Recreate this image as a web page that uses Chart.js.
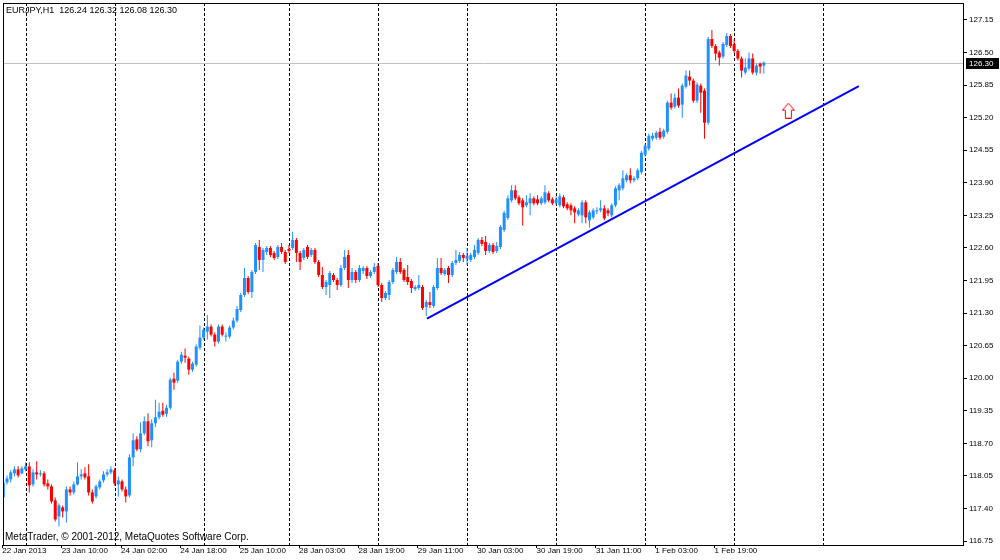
<!DOCTYPE html>
<html>
<head>
<meta charset="utf-8">
<title>EURJPY,H1</title>
<script src="https://cdn.jsdelivr.net/npm/chart.js@4.4.1/dist/chart.umd.min.js"></script>
<style>
  html, body { margin: 0; padding: 0; background: #fff; }
  #wrap { width: 1000px; height: 560px; }
</style>
</head>
<body>
<div id="wrap"><canvas id="chart" width="1000" height="560"></canvas></div>
<script>
const chartTitle = 'EURJPY,H1  126.24 126.32 126.08 126.30';
const copyright = 'MetaTrader, \u00a9 2001-2012, MetaQuotes Software Corp.';

// hourly bars, 22 Jan 2013 18:00 .. 4 Feb 2013
const opens = [
  117.62, 117.92, 117.98, 118.10, 118.18, 118.10, 118.18, 118.24, 117.88, 118.12,
  118.08, 118.10, 117.90, 117.84, 117.56, 117.24, 117.42, 117.34, 117.78, 117.72,
  117.88, 118.04, 118.10, 118.04, 117.72, 117.64, 117.82, 117.96, 118.08, 118.12,
  118.16,
  117.88, 117.94, 117.78, 117.66, 118.42, 118.78, 118.58, 118.90, 119.14, 118.76,
  119.10, 119.22, 119.35, 119.29, 119.41, 119.99, 119.95, 120.33, 120.45, 120.39,
  120.17, 120.27, 120.61, 120.81, 120.93, 121.03, 120.87, 120.73, 121.03, 120.83,
  120.83, 121.01, 121.15, 121.36, 121.66, 122.00, 121.72, 122.12, 122.62, 122.36,
  122.52, 122.60, 122.50, 122.42, 122.62, 122.52, 122.58, 122.60, 122.76, 122.50,
  122.40, 122.62, 122.46, 122.56, 122.32, 122.06, 121.82, 121.86, 122.06, 121.96,
  121.86, 122.20, 122.46, 121.96, 122.12, 121.96, 122.14, 122.20, 122.04, 122.12,
  122.24, 121.86, 121.60, 121.66, 121.92, 122.12, 122.32, 122.16, 122.02, 121.94,
  121.78, 121.80, 121.82, 121.42, 121.52, 121.44, 121.80, 122.20, 122.08, 122.20,
  122.06, 122.30, 122.34, 122.46, 122.38, 122.36, 122.42, 122.50, 122.76, 122.72,
  122.54, 122.66, 122.54, 122.62, 122.96, 123.20, 123.55, 123.75, 123.61, 123.55,
  123.45, 123.49, 123.59, 123.57, 123.49, 123.51, 123.69, 123.57, 123.49, 123.45,
  123.61, 123.47, 123.45, 123.39, 123.27, 123.25, 123.51, 123.15, 123.21, 123.33,
  123.35, 123.39, 123.35, 123.25, 123.45, 123.75, 123.79, 123.95, 124.05, 123.95,
  123.99, 124.11, 124.46, 124.58, 124.78, 124.80, 124.92, 124.82, 124.92, 125.50,
  125.42, 125.60, 125.46, 125.82, 126.02, 125.94, 125.54, 125.84, 125.74, 125.10,
  126.77, 126.63, 126.50, 126.42, 126.65, 126.83, 126.67, 126.53, 126.38, 126.10,
  126.18, 126.38, 126.10, 126.28, 126.24
];
const highs = [
  117.98, 118.06, 118.16, 118.24, 118.24, 118.24, 118.32, 118.32, 118.18, 118.34,
  118.16, 118.14, 117.98, 117.88, 117.62, 117.50, 117.46, 117.84, 117.84, 117.94,
  118.32, 118.18, 118.22, 118.28, 117.78, 117.88, 117.98, 118.14, 118.18, 118.24,
  118.20,
  118.04, 117.98, 117.84, 118.48, 118.90, 118.84, 119.12, 119.24, 119.30, 119.18,
  119.57, 119.51, 119.51, 119.47, 120.01, 120.11, 120.37, 120.53, 120.59, 120.43,
  120.33, 120.67, 121.05, 121.01, 121.26, 121.07, 120.91, 121.07, 121.07, 120.91,
  121.05, 121.21, 121.44, 121.70, 122.20, 122.04, 122.16, 122.70, 122.76, 122.60,
  122.64, 122.64, 122.54, 122.66, 122.70, 122.56, 122.66, 122.92, 122.80, 122.54,
  122.60, 122.66, 122.60, 122.60, 122.36, 122.22, 121.96, 122.14, 122.10, 122.00,
  122.26, 122.56, 122.56, 122.20, 122.16, 122.26, 122.24, 122.24, 122.16, 122.30,
  122.30, 121.90, 121.74, 121.96, 122.20, 122.42, 122.40, 122.20, 122.26, 121.98,
  121.86, 122.06, 121.86, 121.56, 121.72, 121.86, 122.40, 122.40, 122.20, 122.24,
  122.34, 122.56, 122.52, 122.50, 122.60, 122.50, 122.66, 122.80, 122.82, 122.84,
  122.70, 122.70, 122.72, 123.06, 123.34, 123.65, 123.85, 123.85, 123.65, 123.59,
  123.65, 123.69, 123.63, 123.65, 123.63, 123.85, 123.73, 123.61, 123.63, 123.69,
  123.65, 123.51, 123.49, 123.43, 123.39, 123.55, 123.55, 123.35, 123.39, 123.41,
  123.55, 123.45, 123.39, 123.49, 123.83, 123.89, 124.15, 124.09, 124.19, 124.03,
  124.19, 124.54, 124.68, 124.88, 124.90, 124.94, 125.00, 124.98, 125.54, 125.68,
  125.68, 125.78, 125.88, 126.14, 126.14, 125.98, 125.90, 125.88, 125.78, 126.81,
  126.95, 126.67, 126.54, 126.71, 126.89, 126.87, 126.77, 126.57, 126.42, 126.38,
  126.50, 126.48, 126.28, 126.30, 126.32
];
const lows = [
  117.54, 117.88, 117.92, 118.04, 118.02, 118.08, 118.14, 117.72, 117.84, 117.98,
  118.04, 117.84, 117.78, 117.50, 117.14, 117.04, 117.22, 117.12, 117.66, 117.68,
  117.86, 117.98, 117.98, 117.66, 117.50, 117.60, 117.78, 117.92, 118.04, 118.08,
  117.86,
  117.64, 117.74, 117.52, 117.62, 118.24, 118.54, 118.52, 118.86, 118.64, 118.62,
  119.02, 119.18, 119.23, 119.23, 119.37, 119.77, 119.91, 120.29, 120.31, 120.07,
  120.13, 120.23, 120.57, 120.77, 120.77, 120.83, 120.63, 120.69, 120.83, 120.73,
  120.79, 120.97, 121.11, 121.32, 121.62, 121.68, 121.60, 122.08, 122.16, 122.12,
  122.46, 122.42, 122.36, 122.38, 122.48, 122.28, 122.50, 122.56, 122.32, 122.16,
  122.36, 122.38, 122.42, 122.28, 122.02, 121.78, 121.66, 121.60, 121.92, 121.76,
  121.82, 122.16, 121.80, 121.90, 121.90, 121.92, 122.08, 121.98, 122.00, 122.08,
  121.82, 121.52, 121.56, 121.56, 121.88, 122.08, 122.08, 121.92, 121.86, 121.70,
  121.74, 121.76, 121.36, 121.24, 121.40, 121.40, 121.76, 122.06, 122.04, 121.90,
  122.02, 122.26, 122.30, 122.32, 122.26, 122.32, 122.38, 122.46, 122.64, 122.46,
  122.50, 122.48, 122.50, 122.58, 122.92, 123.16, 123.51, 123.55, 123.45, 123.05,
  123.41, 123.25, 123.45, 123.45, 123.45, 123.47, 123.51, 123.45, 123.45, 123.41,
  123.39, 123.35, 123.25, 123.09, 123.23, 123.09, 123.09, 123.01, 123.17, 123.27,
  123.31, 123.15, 123.23, 123.21, 123.41, 123.55, 123.75, 123.91, 123.89, 123.91,
  123.95, 124.07, 124.42, 124.54, 124.74, 124.76, 124.76, 124.78, 124.88, 125.36,
  125.38, 125.40, 125.20, 125.78, 125.84, 125.50, 125.50, 125.30, 124.78, 125.06,
  126.59, 126.34, 126.24, 126.38, 126.61, 126.59, 126.49, 126.34, 126.00, 126.06,
  126.14, 126.06, 126.04, 126.08, 126.08
];
const closes = [
  117.92, 118.00, 118.12, 118.18, 118.06, 118.20, 118.24, 117.86, 118.12, 118.08,
  118.10, 117.88, 117.84, 117.54, 117.18, 117.46, 117.34, 117.78, 117.72, 117.88,
  118.04, 118.08, 118.02, 117.72, 117.54, 117.84, 117.94, 118.08, 118.12, 118.18,
  117.90,
  117.96, 117.78, 117.64, 118.42, 118.76, 118.58, 118.90, 119.14, 118.74, 119.10,
  119.22, 119.33, 119.27, 119.41, 119.97, 119.91, 120.33, 120.47, 120.41, 120.17,
  120.29, 120.63, 120.81, 120.97, 121.03, 120.87, 120.73, 121.03, 120.87, 120.85,
  121.01, 121.15, 121.38, 121.66, 122.00, 121.72, 122.12, 122.66, 122.36, 122.56,
  122.60, 122.46, 122.40, 122.62, 122.52, 122.32, 122.54, 122.76, 122.50, 122.32,
  122.56, 122.42, 122.56, 122.32, 122.06, 121.82, 121.92, 122.10, 121.96, 121.86,
  122.20, 122.42, 121.96, 122.12, 121.96, 122.20, 122.20, 122.04, 122.12, 122.22,
  121.86, 121.60, 121.70, 121.92, 122.16, 122.32, 122.12, 121.96, 121.92, 121.80,
  121.82, 121.86, 121.40, 121.52, 121.46, 121.82, 122.20, 122.10, 122.16, 122.06,
  122.30, 122.36, 122.46, 122.40, 122.44, 122.46, 122.56, 122.76, 122.68, 122.54,
  122.66, 122.52, 122.64, 123.02, 123.30, 123.59, 123.75, 123.59, 123.49, 123.41,
  123.51, 123.59, 123.49, 123.49, 123.59, 123.71, 123.55, 123.49, 123.57, 123.63,
  123.43, 123.39, 123.35, 123.31, 123.35, 123.51, 123.21, 123.31, 123.35, 123.35,
  123.39, 123.19, 123.29, 123.45, 123.79, 123.85, 123.99, 124.05, 123.95, 123.99,
  124.15, 124.50, 124.64, 124.84, 124.84, 124.90, 124.80, 124.94, 125.50, 125.40,
  125.60, 125.44, 125.84, 126.04, 125.94, 125.54, 125.86, 125.70, 125.10, 126.77,
  126.63, 126.48, 126.40, 126.67, 126.83, 126.63, 126.53, 126.38, 126.14, 126.20,
  126.38, 126.10, 126.24, 126.22, 126.30
];

const timeLabels = ['22 Jan 2013', '23 Jan 10:00', '24 Jan 02:00', '24 Jan 18:00', '25 Jan 10:00',
  '28 Jan 03:00', '28 Jan 19:00', '29 Jan 11:00', '30 Jan 03:00', '30 Jan 19:00',
  '31 Jan 11:00', '1 Feb 03:00', '1 Feb 19:00'];
const timeLabelBars = [0, 16, 32, 48, 64, 80, 96, 112, 128, 144, 160, 176, 192];
const separatorBars = [6, 30, 54, 77, 101, 125, 149, 173, 197, 221];
const priceTicks = [116.75, 117.40, 118.05, 118.70, 119.35, 120.00, 120.65, 121.30, 121.95,
  122.60, 123.25, 123.90, 124.55, 125.20, 125.85, 126.50, 127.15];

// objects drawn on the chart
const trendLine = [{x: 114.2, y: 121.19}, {x: 230.6, y: 125.83}];
const arrowMark = [{x: 211.6, y: 125.34}];
const bidPrice = 126.30;

const BULL = '#1e90ff';
const BEAR = '#ff0000';
const FONT = '"Liberation Sans", Arial, sans-serif';

const bodies = opens.map((o, i) => ({x: i, y: [o, closes[i]]}));
const wicks = lows.map((l, i) => ({x: i, y: [l, highs[i]]}));
const candleColor = c => closes[c.dataIndex] >= opens[c.dataIndex] ? BULL : BEAR;

// hollow up arrow, like the terminal's arrow object
const arrowImg = document.createElement('canvas');
arrowImg.width = 13;
arrowImg.height = 16;
(function () {
  const g = arrowImg.getContext('2d');
  g.beginPath();
  g.moveTo(6.5, 0.5);
  g.lineTo(12.5, 7.5);
  g.lineTo(9.5, 7.5);
  g.lineTo(9.5, 15.5);
  g.lineTo(3.5, 15.5);
  g.lineTo(3.5, 7.5);
  g.lineTo(0.5, 7.5);
  g.closePath();
  g.fillStyle = '#fff';
  g.fill();
  g.strokeStyle = '#ff0000';
  g.lineWidth = 1;
  g.stroke();
})();

const terminalDecor = {
  id: 'terminalDecor',
  beforeDatasetsDraw(chart) {
    const {ctx, chartArea: a, scales: {x, y}} = chart;
    ctx.save();
    ctx.beginPath();
    ctx.rect(a.left, a.top, a.right - a.left, a.bottom - a.top);
    ctx.clip();
    // day separators
    ctx.strokeStyle = '#000';
    ctx.lineWidth = 1;
    ctx.setLineDash([3, 2]);
    separatorBars.forEach(b => {
      const px = Math.round(x.getPixelForValue(b)) + 0.5;
      ctx.beginPath();
      ctx.moveTo(px, a.top);
      ctx.lineTo(px, a.bottom);
      ctx.stroke();
    });
    ctx.setLineDash([]);
    // bid line
    const by = Math.round(y.getPixelForValue(bidPrice)) + 0.5;
    ctx.strokeStyle = '#c0c0c0';
    ctx.beginPath();
    ctx.moveTo(a.left, by);
    ctx.lineTo(a.right, by);
    ctx.stroke();
    ctx.restore();
  },
  afterDraw(chart) {
    const {ctx, chartArea: a, scales: {y}} = chart;
    ctx.save();
    ctx.strokeStyle = '#000';
    ctx.lineWidth = 1;
    ctx.strokeRect(a.left + 0.5, a.top + 0.5, a.right - a.left - 1, a.bottom - a.top);

    ctx.fillStyle = '#000';
    ctx.textBaseline = 'alphabetic';
    ctx.textAlign = 'left';
    ctx.font = '9px ' + FONT;
    ctx.fillText(chartTitle, 6, 13);
    ctx.font = '10px ' + FONT;
    ctx.fillText(copyright, 5, 540);

    // bid price box on the price scale
    const by = y.getPixelForValue(bidPrice);
    ctx.fillStyle = '#000';
    ctx.fillRect(a.right + 2, Math.round(by) - 5, 33, 11);
    ctx.fillStyle = '#fff';
    ctx.font = '8px ' + FONT;
    ctx.textBaseline = 'middle';
    ctx.fillText(bidPrice.toFixed(2), a.right + 5, Math.round(by) + 0.5);
    ctx.restore();
  }
};

const ctx = document.getElementById('chart').getContext('2d');
new Chart(ctx, {
  type: 'bar',
  data: {
    datasets: [
      {
        type: 'line',
        data: trendLine,
        borderColor: '#0000ff',
        borderWidth: 2,
        pointRadius: 0,
        order: 0
      },
      {
        type: 'scatter',
        data: arrowMark,
        pointStyle: arrowImg,
        pointRadius: 8,
        order: 0
      },
      {
        type: 'bar',
        data: bodies,
        backgroundColor: candleColor,
        barThickness: 3,
        minBarLength: 1,
        grouped: false,
        inflateAmount: 0,
        borderWidth: 0,
        order: 1
      },
      {
        type: 'bar',
        data: wicks,
        backgroundColor: candleColor,
        barThickness: 1,
        grouped: false,
        inflateAmount: 0,
        borderWidth: 0,
        order: 2
      }
    ]
  },
  options: {
    responsive: false,
    animation: false,
    devicePixelRatio: 1,
    layout: {autoPadding: false, padding: {left: 3, top: 3, right: 0, bottom: 0}},
    plugins: {
      legend: {display: false},
      tooltip: {enabled: false}
    },
    scales: {
      x: {
        type: 'linear',
        min: -0.08,
        max: 258.95,
        offset: false,
        afterBuildTicks: s => { s.ticks = timeLabelBars.map(b => ({value: b - 0.27})); },
        afterFit: s => {
          s.height = 15;
          s.paddingLeft = 0;
          s.paddingRight = 0;
        },
        ticks: {
          autoSkip: false,
          maxRotation: 0,
          align: 'start',
          padding: -1,
          color: '#000',
          font: {family: FONT, size: 8, lineHeight: 1},
          callback: (v, i) => timeLabels[i]
        },
        grid: {drawOnChartArea: false, drawTicks: true, tickLength: 3, color: '#000', offset: false},
        border: {display: false}
      },
      y: {
        position: 'right',
        min: 116.6703,
        max: 127.4887,
        afterBuildTicks: s => { s.ticks = priceTicks.map(v => ({value: v})); },
        afterFit: s => {
          // tick labels never reach the ends, so no extra room above/below
          s.width = 36;
          s.paddingTop = 0;
          s.paddingBottom = 0;
        },
        ticks: {
          padding: 2,
          color: '#000',
          font: {family: FONT, size: 8},
          callback: v => v.toFixed(2)
        },
        grid: {drawOnChartArea: false, drawTicks: true, tickLength: 3, color: '#000'},
        border: {display: false}
      }
    }
  },
  plugins: [terminalDecor]
});
</script>
</body>
</html>
